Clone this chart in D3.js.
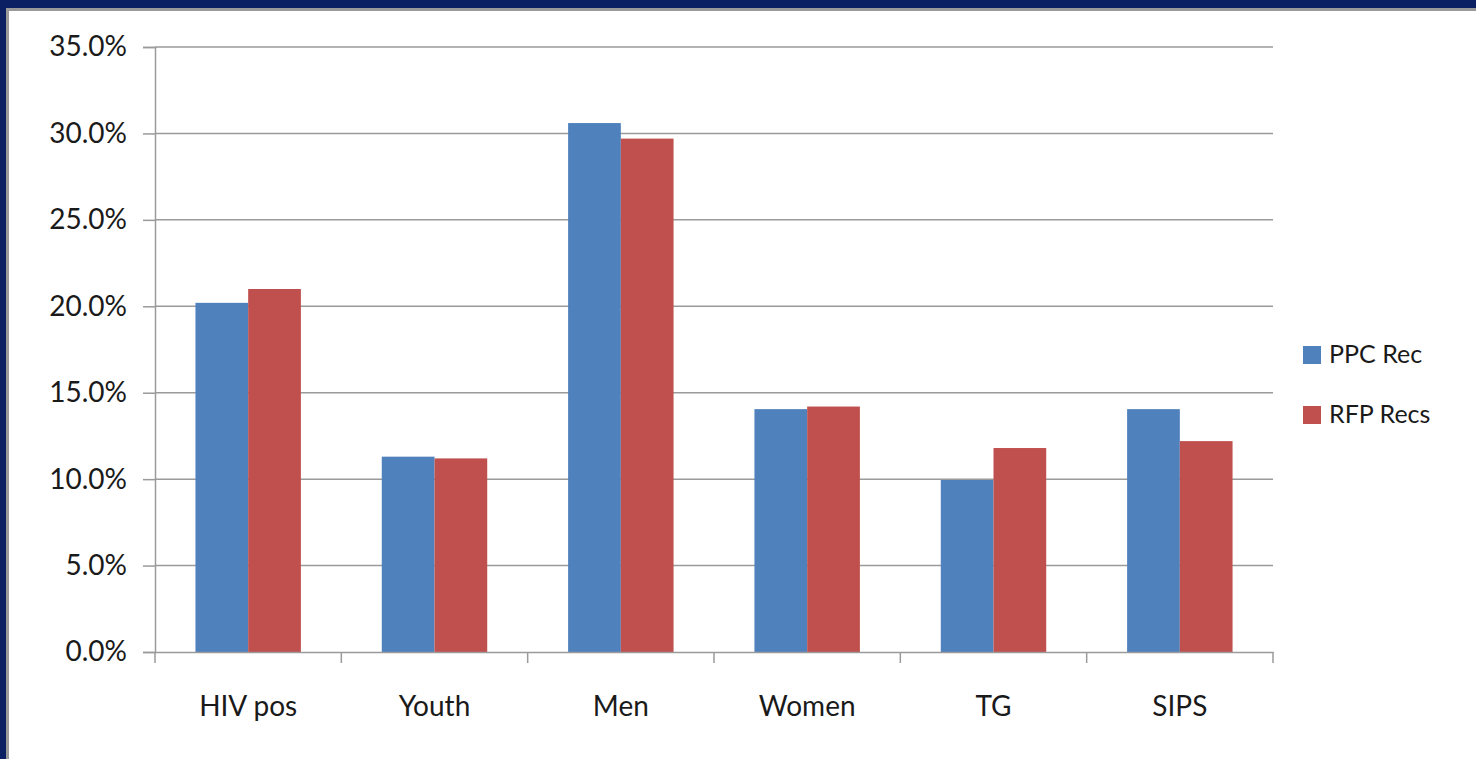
<!DOCTYPE html>
<html>

<head>
    <style>
        body {
            margin: 0;
            background: #fff;
            font-family: Lato, "Open Sans", sans-serif;
        }
    </style>
    <script src="https://cdn.jsdelivr.net/npm/d3@7"></script>
    <title>PPC vs RFP</title>
</head>

<body>
    <div id="chart"></div>

    <script>
        // Data
        const categories = ["HIV pos", "Youth", "Men", "Women", "TG", "SIPS"];
        const seriesNames = ["PPC Rec", "RFP Recs"];
        const ppcRec = [0.202, 0.113, 0.306, 0.1405, 0.0995, 0.1405];
        const rfpRecs = [0.210, 0.112, 0.297, 0.142, 0.118, 0.122];
        const yTicks = [0, 0.05, 0.10, 0.15, 0.20, 0.25, 0.30, 0.35];
        const colors = ["#4f81bd", "#c0504d"];

        const width = 1476, height = 759;
        const margin = { top: 47, right: 203, bottom: 107, left: 155 };

        const svg = d3.select("#chart").append("svg")
            .attr("width", width)
            .attr("height", height);

        // slide frame
        svg.append("rect").attr("width", width).attr("height", height).attr("fill", "#fff");
        svg.append("rect").attr("x", 0).attr("y", 0).attr("width", width).attr("height", 11).attr("fill", "#999");
        svg.append("rect").attr("x", 0).attr("y", 0).attr("width", 9).attr("height", height).attr("fill", "#999");
        svg.append("rect").attr("x", 0).attr("y", 0).attr("width", width).attr("height", 8).attr("fill", "#0b1f63");
        svg.append("rect").attr("x", 0).attr("y", 0).attr("width", 6).attr("height", height).attr("fill", "#0b1f63");

        const x0 = d3.scaleBand()
            .domain(categories)
            .range([margin.left, width - margin.right]);

        const x1 = d3.scaleBand()
            .domain(seriesNames)
            .range([0, x0.bandwidth()])
            .paddingOuter(0.767);

        const y = d3.scaleLinear()
            .domain([0, 0.35])
            .range([height - margin.bottom, margin.top]);

        // gridlines
        svg.append("g")
            .selectAll("line")
            .data(yTicks.filter(d => d > 0))
            .join("line")
            .attr("x1", margin.left)
            .attr("x2", width - margin.right)
            .attr("y1", d => y(d))
            .attr("y2", d => y(d))
            .attr("stroke", "#9a9a9a")
            .attr("stroke-width", 1.5);

        // bars
        const rows = categories.map((c, i) => ({ cat: c, values: [ppcRec[i], rfpRecs[i]] }));
        svg.append("g")
            .selectAll("g")
            .data(rows)
            .join("g")
            .attr("transform", d => `translate(${x0(d.cat)},0)`)
            .selectAll("rect")
            .data(d => d.values.map((v, j) => ({ key: seriesNames[j], v, j })))
            .join("rect")
            .attr("x", d => x1(d.key))
            .attr("width", x1.bandwidth())
            .attr("y", d => y(d.v))
            .attr("height", d => y(0) - y(d.v))
            .attr("fill", d => colors[d.j]);

        // y axis
        const yAxis = svg.append("g")
            .attr("transform", `translate(${margin.left},0)`)
            .call(d3.axisLeft(y).tickValues(yTicks).tickFormat(d3.format(".1%")).tickSize(12).tickPadding(16));
        yAxis.select(".domain").attr("stroke", "#9a9a9a").attr("stroke-width", 1.5);
        yAxis.selectAll(".tick line").attr("stroke", "#9a9a9a").attr("stroke-width", 1.5);
        yAxis.selectAll("text").attr("font-size", 28).attr("font-family", "Lato").attr("fill", "#1a1a1a");

        // x axis
        const xAxis = svg.append("g")
            .attr("transform", `translate(0,${y(0)})`)
            .call(d3.axisBottom(x0).tickSize(0).tickPadding(44));
        xAxis.select(".domain").attr("stroke", "#9a9a9a").attr("stroke-width", 1.5);
        xAxis.selectAll("text").attr("font-size", 28).attr("font-family", "Lato").attr("fill", "#1a1a1a");
        // category boundary ticks
        xAxis.append("g")
            .selectAll("line")
            .data(categories.concat(["end"]))
            .join("line")
            .attr("x1", (d, i) => i < categories.length ? x0(d) : x0.range()[1])
            .attr("x2", (d, i) => i < categories.length ? x0(d) : x0.range()[1])
            .attr("y1", 0)
            .attr("y2", 11)
            .attr("stroke", "#9a9a9a")
            .attr("stroke-width", 1.5);

        // legend
        const legend = svg.append("g")
            .attr("transform", "translate(1303,346)");
        const item = legend.selectAll("g")
            .data(seriesNames)
            .join("g")
            .attr("transform", (d, i) => `translate(0,${i * 60})`);
        item.append("rect")
            .attr("width", 18)
            .attr("height", 18)
            .attr("fill", (d, i) => colors[i]);
        item.append("text")
            .attr("x", 26)
            .attr("y", 17)
            .attr("font-size", 25)
            .attr("font-family", "Lato")
            .attr("fill", "#1a1a1a")
            .text(d => d);
    </script>
</body>

</html>
